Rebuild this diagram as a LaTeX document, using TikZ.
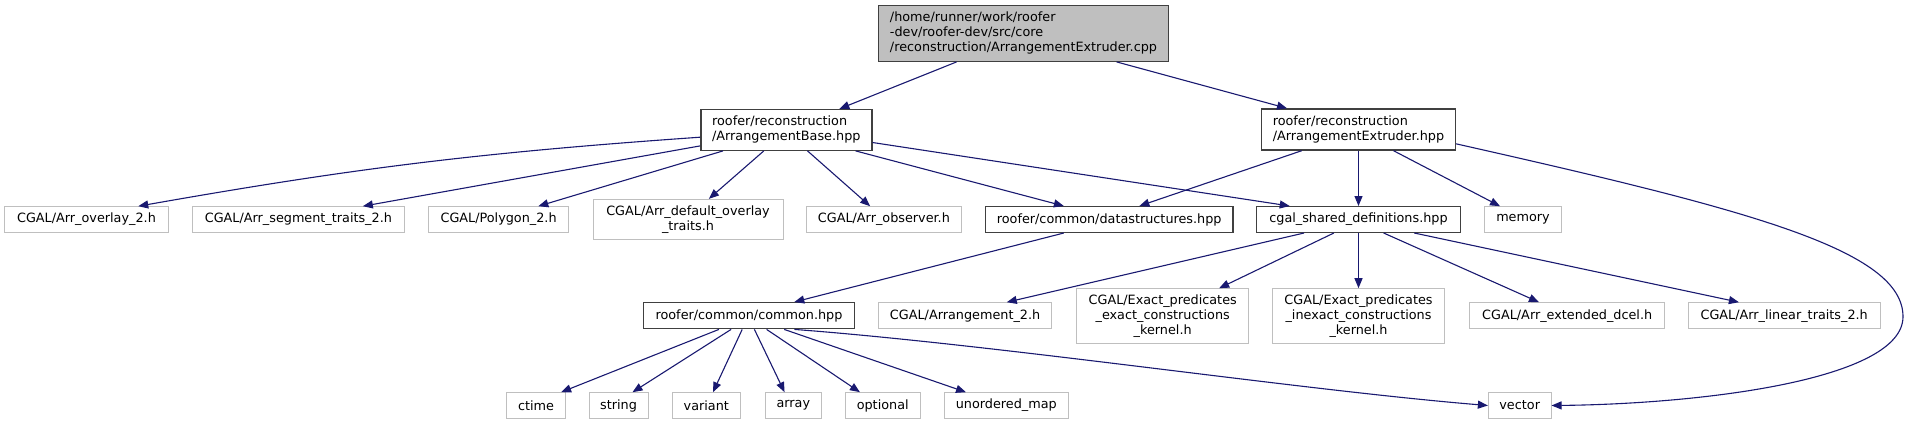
\documentclass[tikz,border=0pt]{standalone}
\usepackage{fontspec}
\setmainfont{DejaVu Sans}
\usetikzlibrary{arrows.meta,calc}
\definecolor{extgray}{HTML}{BFBFBF}
\definecolor{rootgray}{HTML}{BFBFBF}
\definecolor{darkborder}{HTML}{404040}
\definecolor{edgeblue}{HTML}{191970}
\newcommand\dfs{\fontsize{12.8}{15}\selectfont}
\tikzset{
  basebox/.style={draw, inner sep=0pt, font=\dfs, align=center, line width=1pt},
  extbox/.style={basebox, draw=extgray, fill=white},
  incbox/.style={basebox, draw=darkborder, fill=white, line width=1.4pt},
  rootbox/.style={basebox, draw=darkborder, fill=rootgray, line width=1.4pt},
  dep/.style={draw=edgeblue, line width=1.1pt, -{Triangle[length=10pt,width=8pt]}},
}
\begin{document}
\begin{tikzpicture}[x=1pt,y=-1pt]
\useasboundingbox (0,0) rectangle (1909,424);
% level 0
\node[rootbox, align=left, minimum width=290pt, minimum height=56pt] (root) at (1023.5,33.2)
  {/home/runner/work/roofer\\-dev/roofer-dev/src/core\\/reconstruction/ArrangementExtruder.cpp};
% level 1
\node[incbox, align=left, minimum width=171pt, minimum height=40.6pt] (ab) at (786.3,129.9)
  {roofer/reconstruction\\/ArrangementBase.hpp};
\node[incbox, align=left, minimum width=193.6pt, minimum height=41pt] (ae) at (1358.5,129.5)
  {roofer/reconstruction\\/ArrangementExtruder.hpp};
% level 2
\node[extbox, minimum width=163.3pt, minimum height=25.6pt] (ovl) at (86.5,219.5) {CGAL/Arr\_overlay\_2.h};
\node[extbox, minimum width=212.3pt, minimum height=25.6pt] (seg) at (298.4,219.5) {CGAL/Arr\_segment\_traits\_2.h};
\node[extbox, minimum width=140pt, minimum height=25.6pt] (poly) at (498.6,219.5) {CGAL/Polygon\_2.h};
\node[extbox, minimum width=190pt, minimum height=40pt] (dflt) at (688,219.3) {CGAL/Arr\_default\_overlay\\\_traits.h};
\node[extbox, minimum width=154.7pt, minimum height=25.6pt] (obs) at (883.9,219.5) {CGAL/Arr\_observer.h};
\node[incbox, minimum width=247.7pt, minimum height=25.6pt] (ds) at (1109.2,219.5) {roofer/common/datastructures.hpp};
\node[incbox, minimum width=203.5pt, minimum height=25.6pt] (cgal) at (1358.5,219.5) {cgal\_shared\_definitions.hpp};
\node[extbox, minimum width=77.5pt, minimum height=25.6pt] (mem) at (1523,219.5) {memory};
% level 3
\node[incbox, minimum width=211.4pt, minimum height=26pt] (common) at (749,315.7) {roofer/common/common.hpp};
\node[extbox, minimum width=173.4pt, minimum height=26pt] (arr2) at (965.1,315.7) {CGAL/Arrangement\_2.h};
\node[extbox, minimum width=171.9pt, minimum height=54.6pt] (exex) at (1162.7,316) {CGAL/Exact\_predicates\\\_exact\_constructions\\\_kernel.h};
\node[extbox, minimum width=172.3pt, minimum height=54.6pt] (exin) at (1358.5,316) {CGAL/Exact\_predicates\\\_inexact\_constructions\\\_kernel.h};
\node[extbox, minimum width=195.1pt, minimum height=26pt] (dcel) at (1567.2,315.7) {CGAL/Arr\_extended\_dcel.h};
\node[extbox, minimum width=191.6pt, minimum height=26pt] (lin) at (1784.2,315.7) {CGAL/Arr\_linear\_traits\_2.h};
% level 4
\node[extbox, minimum width=58.8pt, minimum height=25.6pt] (ctime) at (536,405.5) {ctime};
\node[extbox, minimum width=59.2pt, minimum height=25.6pt] (str) at (618.6,405.5) {string};
\node[extbox, minimum width=68.2pt, minimum height=25.6pt] (var) at (706.3,405.5) {variant};
\node[extbox, minimum width=55.9pt, minimum height=25.6pt] (arr) at (793.3,405.5) {array};
\node[extbox, minimum width=74.7pt, minimum height=25.6pt] (opt) at (882.7,405.5) {optional};
\node[extbox, minimum width=124.6pt, minimum height=25.6pt] (umap) at (1006.3,405.5) {unordered\_map};
\node[extbox, minimum width=62.7pt, minimum height=25.6pt] (vec) at (1519.7,405.5) {vector};
% edges from root
\draw[dep] ($(root.south west)+(78.8,0)$) -- ($(ab.north west)+(139.2,0)$);
\draw[dep] ($(root.south west)+(238.8,0)$) -- ($(ae.north west)+(26,0)$);
% edges from ArrangementBase
\draw[dep] ($(ab.north west)+(0,28.3)$) to[bend right=3] ($(ovl.north west)+(133.9,0)$);
\draw[dep] ($(ab.north west)+(0,37)$) -- ($(seg.north west)+(171.1,0)$);
\draw[dep] ($(ab.south west)+(22.9,0)$) -- ($(poly.north west)+(110.2,0)$);
\draw[dep] ($(ab.south west)+(63.7,0)$) -- ($(dflt.north west)+(116.4,0)$);
\draw[dep] ($(ab.south west)+(107.4,0)$) -- ($(obs.north west)+(64.1,0)$);
\draw[dep] ($(ab.south west)+(155.5,0)$) -- ($(ds.north west)+(79.2,0)$);
\draw[dep] ($(ab.north east)+(0,33.6)$) -- ($(cgal.north west)+(33.7,0)$);
% edges from ArrangementExtruder
\draw[dep] ($(ae.south west)+(40.7,0)$) -- ($(ds.north west)+(154.7,0)$);
\draw[dep] (ae.south) -- (cgal.north);
\draw[dep] ($(ae.south west)+(132.5,0)$) -- ($(mem.north west)+(16.3,0)$);
\draw[dep] ($(ae.north east)+(0,35.5)$) .. controls (1750,210) and (1903,250) .. (1903,316.7)
  .. controls (1903,380) and (1700,404) .. (vec.east);
% datastructures
\draw[dep] ($(ds.south west)+(79.2,0)$) -- ($(common.north west)+(151.7,0)$);
% cgal_shared_definitions
\draw[dep] ($(cgal.south west)+(48,0)$) -- ($(arr2.north west)+(128.9,0)$);
\draw[dep] ($(cgal.south west)+(77.8,0)$) -- ($(exex.north west)+(142.9,0)$);
\draw[dep] (cgal.south) -- (exin.north);
\draw[dep] ($(cgal.south west)+(127.6,0)$) -- ($(dcel.north west)+(69.8,0)$);
\draw[dep] ($(cgal.south west)+(158.2,0)$) -- ($(lin.north west)+(51,0)$);
% common
\draw[dep] ($(common.south west)+(76.3,0)$) -- ($(ctime.north west)+(55,0)$);
\draw[dep] ($(common.south west)+(88.5,0)$) -- ($(str.north west)+(44,0)$);
\draw[dep] ($(common.south west)+(99.6,0)$) -- ($(var.north west)+(41.3,0)$);
\draw[dep] ($(common.south west)+(111.8,0)$) -- ($(arr.north west)+(19.7,0)$);
\draw[dep] ($(common.south west)+(124,0)$) -- ($(opt.north west)+(15.1,0)$);
\draw[dep] ($(common.south west)+(141.6,0)$) -- ($(umap.north west)+(22.5,0)$);
\draw[dep] ($(common.south west)+(151.7,0)$) .. controls (1000,345) and (1300,390) .. (vec.west);
\end{tikzpicture}
\end{document}
